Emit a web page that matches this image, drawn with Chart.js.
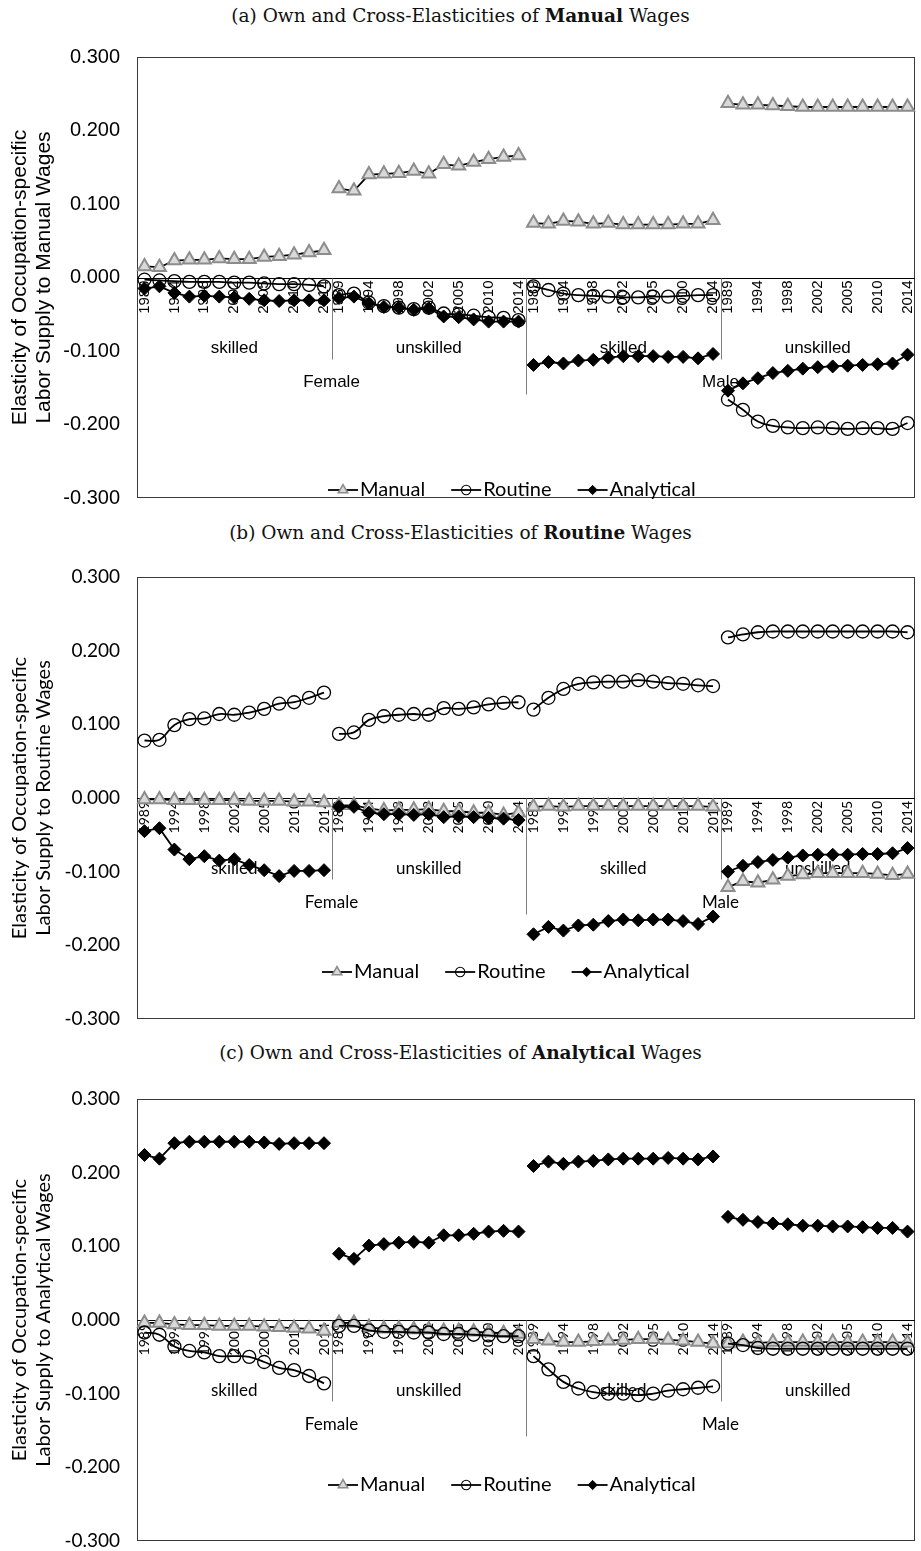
<!DOCTYPE html>
<html lang="en">
<head>
<meta charset="UTF-8">
<title>Own and Cross-Elasticities of Wages</title>
<style>
  body { margin: 0; width: 921px; height: 1551px; position: relative; background: #fff; overflow: hidden; }
  .title { position: absolute; left: 0; width: 921px; text-align: center; font-family: "DejaVu Serif", serif; font-size: 18.5px; line-height: 20px; color: #111; }
  .box { position: absolute; left: 0; width: 921px; }
</style>
<script src="https://cdn.jsdelivr.net/npm/chart.js"></script>
</head>
<body>
<div class="title" style="top:6px">(a) Own and Cross-Elasticities of <b>Manual</b> Wages</div>
<div class="box" style="top:40px;height:480px"><canvas id="chartA"></canvas></div>
<div class="title" style="top:523px">(b) Own and Cross-Elasticities of <b>Routine</b> Wages</div>
<div class="box" style="top:560px;height:480px"><canvas id="chartB"></canvas></div>
<div class="title" style="top:1043px">(c) Own and Cross-Elasticities of <b>Analytical</b> Wages</div>
<div class="box" style="top:1080px;height:471px"><canvas id="chartC"></canvas></div>

<script>
// categories: 13 survey years inside each of 4 groups
const years = ['1989', '1991', '1994', '1996', '1998', '2000', '2002', '2004', '2005', '2008', '2010', '2012', '2014'];
const skillGroups = ['skilled', 'unskilled', 'skilled', 'unskilled'];
const sexGroups = ['Female', 'Male'];
const seriesNames = ['Manual', 'Routine', 'Analytical'];

// order in every array: Female skilled, Female unskilled, Male skilled, Male unskilled
// (a) Manual wages
const aManual = [
  0.015, 0.014, 0.023, 0.024, 0.024, 0.026, 0.025, 0.025, 0.028, 0.029, 0.031, 0.034, 0.037,
  0.121, 0.118, 0.140, 0.141, 0.142, 0.145, 0.141, 0.154, 0.152, 0.157, 0.161, 0.164, 0.166,
  0.074, 0.073, 0.077, 0.076, 0.073, 0.074, 0.072, 0.072, 0.072, 0.072, 0.073, 0.073, 0.078,
  0.237, 0.235, 0.235, 0.234, 0.233, 0.232, 0.232, 0.232, 0.232, 0.232, 0.232, 0.232, 0.232
];
const aRoutine = [
  -0.003, -0.004, -0.005, -0.006, -0.006, -0.006, -0.007, -0.007, -0.008, -0.009, -0.009, -0.010, -0.012,
  -0.024, -0.022, -0.034, -0.039, -0.041, -0.043, -0.041, -0.049, -0.050, -0.052, -0.054, -0.055, -0.058,
  -0.012, -0.017, -0.022, -0.024, -0.025, -0.026, -0.027, -0.027, -0.026, -0.026, -0.025, -0.024, -0.024,
  -0.166, -0.180, -0.196, -0.202, -0.204, -0.205, -0.204, -0.205, -0.206, -0.205, -0.205, -0.206, -0.198
];
const aAnalytical = [
  -0.015, -0.012, -0.021, -0.026, -0.025, -0.026, -0.027, -0.029, -0.031, -0.032, -0.031, -0.031, -0.031,
  -0.028, -0.026, -0.035, -0.040, -0.041, -0.044, -0.042, -0.053, -0.054, -0.057, -0.060, -0.060, -0.060,
  -0.119, -0.115, -0.117, -0.113, -0.112, -0.109, -0.107, -0.107, -0.107, -0.108, -0.108, -0.110, -0.104,
  -0.154, -0.144, -0.137, -0.130, -0.127, -0.124, -0.122, -0.121, -0.120, -0.119, -0.118, -0.117, -0.105
];

// (b) Routine wages
const bManual = [
  -0.002, -0.002, -0.003, -0.003, -0.003, -0.003, -0.003, -0.004, -0.004, -0.004, -0.005, -0.005, -0.006,
  -0.010, -0.010, -0.014, -0.017, -0.016, -0.016, -0.015, -0.018, -0.018, -0.020, -0.020, -0.023, -0.020,
  -0.012, -0.011, -0.012, -0.011, -0.011, -0.011, -0.011, -0.011, -0.011, -0.011, -0.011, -0.011, -0.012,
  -0.121, -0.113, -0.115, -0.111, -0.106, -0.104, -0.102, -0.102, -0.102, -0.102, -0.103, -0.105, -0.103
];
const bRoutine = [
  0.078, 0.079, 0.099, 0.107, 0.108, 0.114, 0.113, 0.116, 0.121, 0.128, 0.130, 0.136, 0.143,
  0.087, 0.089, 0.106, 0.111, 0.113, 0.114, 0.113, 0.122, 0.121, 0.123, 0.127, 0.129, 0.130,
  0.120, 0.136, 0.148, 0.155, 0.157, 0.158, 0.158, 0.160, 0.158, 0.156, 0.155, 0.153, 0.152,
  0.218, 0.222, 0.225, 0.226, 0.226, 0.226, 0.226, 0.226, 0.226, 0.226, 0.226, 0.226, 0.225
];
const bAnalytical = [
  -0.045, -0.041, -0.070, -0.083, -0.079, -0.085, -0.083, -0.091, -0.098, -0.106, -0.099, -0.099, -0.098,
  -0.012, -0.012, -0.020, -0.022, -0.022, -0.023, -0.022, -0.026, -0.025, -0.026, -0.027, -0.028, -0.030,
  -0.185, -0.175, -0.180, -0.173, -0.172, -0.167, -0.165, -0.166, -0.165, -0.165, -0.167, -0.171, -0.161,
  -0.100, -0.092, -0.087, -0.084, -0.081, -0.078, -0.077, -0.077, -0.077, -0.076, -0.076, -0.075, -0.068
];

// (c) Analytical wages
const cManual = [
  -0.004, -0.004, -0.006, -0.007, -0.007, -0.008, -0.008, -0.008, -0.009, -0.010, -0.011, -0.012, -0.015,
  -0.004, -0.004, -0.010, -0.012, -0.012, -0.013, -0.013, -0.015, -0.015, -0.016, -0.017, -0.018, -0.019,
  -0.026, -0.028, -0.030, -0.030, -0.029, -0.028, -0.027, -0.026, -0.026, -0.027, -0.028, -0.030, -0.032,
  -0.032, -0.030, -0.031, -0.030, -0.030, -0.030, -0.030, -0.030, -0.030, -0.030, -0.030, -0.030, -0.031
];
const cRoutine = [
  -0.017, -0.020, -0.036, -0.042, -0.044, -0.049, -0.049, -0.050, -0.057, -0.065, -0.068, -0.076, -0.086,
  -0.008, -0.008, -0.014, -0.016, -0.016, -0.017, -0.017, -0.019, -0.019, -0.020, -0.021, -0.022, -0.022,
  -0.049, -0.067, -0.084, -0.093, -0.098, -0.100, -0.100, -0.102, -0.100, -0.096, -0.094, -0.092, -0.090,
  -0.032, -0.034, -0.038, -0.039, -0.039, -0.039, -0.039, -0.039, -0.039, -0.039, -0.039, -0.039, -0.039
];
const cAnalytical = [
  0.224, 0.219, 0.240, 0.242, 0.242, 0.242, 0.242, 0.242, 0.241, 0.239, 0.240, 0.240, 0.240,
  0.090, 0.083, 0.101, 0.103, 0.105, 0.106, 0.105, 0.115, 0.115, 0.117, 0.120, 0.121, 0.120,
  0.209, 0.215, 0.212, 0.215, 0.216, 0.218, 0.219, 0.219, 0.219, 0.220, 0.219, 0.218, 0.222,
  0.140, 0.136, 0.133, 0.131, 0.130, 0.128, 0.128, 0.127, 0.127, 0.126, 0.125, 0.125, 0.120
];

const N = years.length;
const labels = skillGroups.flatMap(() => years);

const seriesStyle = {
  Manual: { pointStyle: 'triangle', pointRadius: 7.5, pointBackgroundColor: '#d9d9d9', pointBorderColor: '#8c8c8c', pointBorderWidth: 2, tension: 0, order: 3 },
  Routine: { pointStyle: 'circle', pointRadius: 6.5, pointBackgroundColor: 'rgba(0,0,0,0)', pointBorderColor: '#000', pointBorderWidth: 1.3, tension: 0.4, order: 2 },
  Analytical: { pointStyle: 'rectRot', pointRadius: 6.5, pointBackgroundColor: '#000', pointBorderColor: '#000', pointBorderWidth: 1, tension: 0, order: 1 }
};

// one dataset per series and group so lines do not join across groups
function groupDatasets(name, values) {
  return skillGroups.map((g, gi) => {
    const data = labels.map((l, i) => (Math.floor(i / N) === gi ? values[i] : null));
    return Object.assign({
      label: name, data: data, borderColor: '#000', borderWidth: 1.8,
      fill: false, spanGaps: false
    }, seriesStyle[name]);
  });
}

// frame, zero line, group separators, group labels and the legend
const decor = {
  id: 'decor',
  beforeDatasetsDraw(chart, args, o) {
    const { ctx, chartArea: ca, scales: { x, y } } = chart;
    const y0 = Math.round(y.getPixelForValue(0)) + 0.5;
    ctx.save();
    ctx.lineWidth = 1;
    ctx.strokeStyle = '#3a3a3a';
    ctx.strokeRect(Math.round(ca.left) + 0.5, Math.round(ca.top) + 0.5, Math.round(ca.width) - 1, Math.round(ca.height) - 1);
    ctx.strokeStyle = '#000';
    ctx.beginPath(); ctx.moveTo(ca.left, y0); ctx.lineTo(ca.right, y0); ctx.stroke();
    ctx.strokeStyle = '#808080';
    for (let g = 1; g < skillGroups.length; g++) {
      const xs = Math.round((x.getPixelForValue(g * N - 1) + x.getPixelForValue(g * N)) / 2) + 0.5;
      const len = g === 2 ? 116 : 81;
      ctx.beginPath(); ctx.moveTo(xs, y0); ctx.lineTo(xs, y0 + len); ctx.stroke();
    }
    ctx.fillStyle = '#000';
    ctx.font = o.groupFont;
    ctx.textAlign = 'center';
    ctx.textBaseline = 'middle';
    skillGroups.forEach((t, g) => {
      const cx = (x.getPixelForValue(g * N) + x.getPixelForValue(g * N + N - 1)) / 2;
      ctx.fillText(t, cx, y0 + 70);
    });
    sexGroups.forEach((t, k) => {
      const cx = (x.getPixelForValue(k * 2 * N) + x.getPixelForValue(k * 2 * N + 2 * N - 1)) / 2;
      ctx.fillText(t, cx, y0 + 104);
    });
    ctx.restore();
  },
  afterDatasetsDraw(chart, args, o) {
    const ctx = chart.ctx;
    let lx = o.legendX;
    const ly = o.legendY;
    ctx.save();
    ctx.font = '20px Lato, sans-serif';
    ctx.textBaseline = 'middle';
    ctx.textAlign = 'left';
    seriesNames.forEach(name => {
      const st = seriesStyle[name];
      ctx.strokeStyle = '#000';
      ctx.lineWidth = 1.8;
      ctx.beginPath(); ctx.moveTo(lx, ly); ctx.lineTo(lx + 30, ly); ctx.stroke();
      ctx.fillStyle = st.pointBackgroundColor;
      ctx.strokeStyle = st.pointBorderColor;
      ctx.lineWidth = st.pointBorderWidth * 0.8;
      Chart.helpers.drawPoint(ctx, { pointStyle: st.pointStyle, radius: st.pointRadius * 0.72, rotation: 0, borderWidth: ctx.lineWidth }, lx + 15, ly);
      ctx.fillStyle = '#000';
      ctx.fillText(name, lx + 32, ly);
      lx += 32 + ctx.measureText(name).width + 26;
    });
    ctx.restore();
  }
};

function makePanel(id, manual, routine, analytical, p) {
  const datasets = [].concat(
    groupDatasets('Manual', manual),
    groupDatasets('Routine', routine),
    groupDatasets('Analytical', analytical)
  );
  return new Chart(document.getElementById(id), {
    type: 'line',
    data: { labels: labels, datasets: datasets },
    plugins: [decor],
    options: {
      responsive: true,
      maintainAspectRatio: false,
      animation: false,
      layout: { autoPadding: false, padding: { top: p.padTop, right: 6, bottom: p.padBottom, left: 0 } },
      plugins: {
        legend: { display: false },
        tooltip: { enabled: false },
        decor: { groupFont: p.groupFont, legendX: p.legendX, legendY: p.legendY }
      },
      scales: {
        x: {
          type: 'category',
          position: { y: 0 },
          offset: true,
          grid: { display: false, drawTicks: false },
          border: { display: false },
          afterFit: s => { s.paddingLeft = 0; s.paddingRight = 0; },
          ticks: {
            autoSkip: false, minRotation: 90, maxRotation: 90, padding: 3,
            color: '#000', font: p.xFont,
            callback: (v, i) => ((i % N) % 2 === 0 ? labels[i] : '')
          }
        },
        y: {
          min: -0.3, max: 0.3,
          grid: { display: false, drawTicks: false },
          border: { display: false },
          afterFit: s => { s.width = 137; s.paddingTop = 0; s.paddingBottom = 0; },
          ticks: {
            stepSize: 0.1, padding: 17, color: '#000', font: p.yFont,
            callback: v => (Math.abs(v) < 1e-9 ? 0 : v).toFixed(3)
          },
          title: { display: true, text: p.yTitle, color: '#000', font: p.titleFont, padding: { top: 8, bottom: 0 } }
        }
      }
    }
  });
}

const arial = 'Liberation Sans, Arial, sans-serif';
const calibri = 'Lato, sans-serif';

makePanel('chartA', aManual, aRoutine, aAnalytical, {
  padTop: 17, padBottom: 22,
  xFont: { family: arial, size: 15 }, yFont: { family: arial, size: 20 },
  titleFont: { family: arial, size: 21, lineHeight: 1.15 },
  groupFont: '17px ' + arial,
  yTitle: ['Elasticity of Occupation-specific', 'Labor Supply to Manual Wages'],
  legendX: 328, legendY: 450
});
makePanel('chartB', bManual, bRoutine, bAnalytical, {
  padTop: 17, padBottom: 21,
  xFont: { family: calibri, size: 14 }, yFont: { family: calibri, size: 19 },
  titleFont: { family: calibri, size: 20, lineHeight: 1.2 },
  groupFont: '17px ' + calibri,
  yTitle: ['Elasticity of Occupation-specific', 'Labor Supply to Routine Wages'],
  legendX: 322, legendY: 412
});
makePanel('chartC', cManual, cRoutine, cAnalytical, {
  padTop: 19, padBottom: 10,
  xFont: { family: calibri, size: 14 }, yFont: { family: calibri, size: 19 },
  titleFont: { family: calibri, size: 20, lineHeight: 1.2 },
  groupFont: '17px ' + calibri,
  yTitle: ['Elasticity of Occupation-specific', 'Labor Supply to Analytical Wages'],
  legendX: 328, legendY: 405
});
</script>
</body>
</html>
